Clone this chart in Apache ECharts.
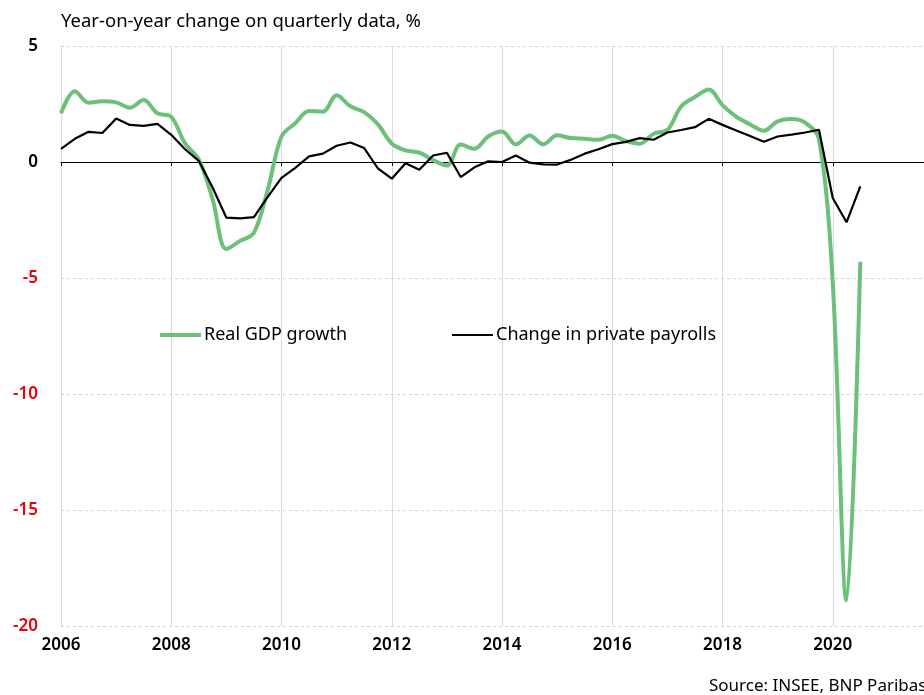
<!DOCTYPE html>
<html>
<head>
<meta charset="utf-8">
<title>France - GDP and private payrolls</title>
<script src="https://cdn.jsdelivr.net/npm/echarts@6.0.0/dist/echarts.min.js"></script>
<style>
	html, body {
		margin: 0;
		padding: 0;
		background: #fff;
		overflow: hidden;
	}
	/* the plot runs past the right edge of the window, like the original */
	#chart {
		width: 960px;
		height: 695px;
	}
</style>
</head>
<body>
<div id="chart"></div>
<script>
	// quarters from 2006Q1 to 2022Q1 (axis end)
	const years = [2006, 2007, 2008, 2009, 2010, 2011, 2012, 2013, 2014, 2015, 2016, 2017, 2018, 2019, 2020, 2021]
	const quarters = []
	years.forEach(y => {
		['Q1', 'Q2', 'Q3', 'Q4'].forEach(q => quarters.push(y + q))
	})
	quarters.push('2022Q1')

	// Real GDP growth, y/y %
	const gdpGrowth = [
		2.1, 3.05, 2.55, 2.62,
		2.57, 2.34, 2.67, 2.1,
		1.95, 0.8, 0.1, -1.6,
		-3.75, -3.4, -3.05, -1.2,
		1.1, 1.67, 2.2, 2.17,
		2.88, 2.4, 2.15, 1.62,
		0.8, 0.5, 0.4, 0.08,
		-0.15, 0.75, 0.57, 1.1,
		1.31, 0.76, 1.14, 0.76,
		1.15, 1.03, 1.0, 0.96,
		1.13, 0.9, 0.79, 1.22,
		1.38, 2.39, 2.8, 3.13,
		2.45, 1.95, 1.62, 1.35,
		1.75, 1.85, 1.7, 1.0,
		-5.2, -18.9, -4.3
	]

	// Change in private payrolls, y/y %
	const payrolls = [
		0.57, 1.0, 1.3, 1.25,
		1.87, 1.6, 1.56, 1.64,
		1.17, 0.55, 0.05, -1.1,
		-2.4, -2.43, -2.38, -1.5,
		-0.68, -0.25, 0.24, 0.36,
		0.7, 0.84, 0.6, -0.28,
		-0.72, -0.05, -0.33, 0.28,
		0.4, -0.65, -0.23, 0.03,
		0.0, 0.28, -0.03, -0.1,
		-0.11, 0.1, 0.36, 0.55,
		0.77, 0.87, 1.03, 0.96,
		1.27, 1.38, 1.5, 1.86,
		1.6, 1.36, 1.12, 0.87,
		1.1, 1.18, 1.27, 1.39,
		-1.55, -2.6, -1.05
	]

	const yTicks = { min: -20, max: 5, step: 5 }

	const FONT = 'Noto Sans'
	const GREEN = '#6dc07a'
	// every 2 years, skip the last one which is off screen
	const everyTwoYears = (idx) => idx % 8 === 0 && idx < quarters.length - 1

	let myChart = echarts.init(document.getElementById('chart'))
	myChart.setOption({
		animation: false,
		textStyle: { fontFamily: FONT },
		title: {
			text: 'Year-on-year change on quarterly data, %',
			left: 56,
			top: 7,
			textStyle: {
				color: '#000',
				fontSize: 18.5,
				fontWeight: 'normal',
				fontFamily: FONT
			}
		},
		legend: [
			{
				data: ['Real GDP growth'],
				left: 160,
				top: 326,
				padding: 0,
				icon: 'rect',
				itemWidth: 41,
				itemHeight: 4,
				itemGap: 0,
				textStyle: { color: '#000', fontSize: 18, fontFamily: FONT, padding: [0, 0, 0, -2] }
			},
			{
				data: ['Change in private payrolls'],
				left: 452,
				top: 326,
				padding: 0,
				icon: 'rect',
				itemWidth: 41,
				itemHeight: 2,
				itemGap: 0,
				textStyle: { color: '#000', fontSize: 18, fontFamily: FONT, padding: [0, 0, 0, -2] }
			}
		],
		grid: {
			left: 61,
			top: 46,
			width: 882,
			height: 580
		},
		xAxis: [
			{
				// labels + vertical grid at the bottom
				type: 'category',
				data: quarters,
				boundaryGap: false,
				position: 'bottom',
				axisLine: { show: false, onZero: false },
				axisTick: { show: false },
				axisLabel: {
					interval: everyTwoYears,
					formatter: v => v.slice(0, 4),
					color: '#000',
					fontSize: 17,
					fontWeight: 600,
					fontFamily: FONT,
					margin: 11
				},
				splitLine: {
					show: true,
					interval: everyTwoYears,
					lineStyle: { color: '#dadada', width: 1 }
				}
			},
			{
				// zero line with the small ticks
				type: 'category',
				data: quarters,
				boundaryGap: false,
				position: 'bottom',
				axisLine: { show: true, onZero: true, lineStyle: { color: '#000', width: 1 } },
				axisTick: { show: true, interval: everyTwoYears, length: 4, lineStyle: { color: '#000' } },
				axisLabel: { show: false },
				splitLine: { show: false }
			}
		],
		yAxis: {
			type: 'value',
			min: yTicks.min,
			max: yTicks.max,
			interval: yTicks.step,
			axisLine: { show: false },
			axisTick: { show: false },
			axisLabel: {
				margin: 23,
				fontSize: 17,
				fontWeight: 600,
				fontFamily: FONT,
				color: v => (v < 0 ? '#e8000b' : '#000')
			},
			splitLine: {
				show: true,
				lineStyle: { color: '#d4d4d4', type: [3, 3], width: 1 }
			}
		},
		series: [
			{
				name: 'Real GDP growth',
				type: 'line',
				xAxisIndex: 0,
				data: gdpGrowth,
				smooth: 0.35,
				symbol: 'none',
				lineStyle: { color: GREEN, width: 4 },
				itemStyle: { color: GREEN }
			},
			{
				name: 'Change in private payrolls',
				type: 'line',
				xAxisIndex: 0,
				data: payrolls,
				symbol: 'none',
				lineStyle: { color: '#000', width: 2.2 },
				itemStyle: { color: '#000' }
			}
		],
		graphic: [
			{
				type: 'text',
				left: 709,
				top: 678,
				style: {
					text: 'Source: INSEE, BNP Paribas',
					fill: '#000',
					fontSize: 17,
					fontFamily: FONT
				}
			}
		]
	})
</script>
</body>
</html>
